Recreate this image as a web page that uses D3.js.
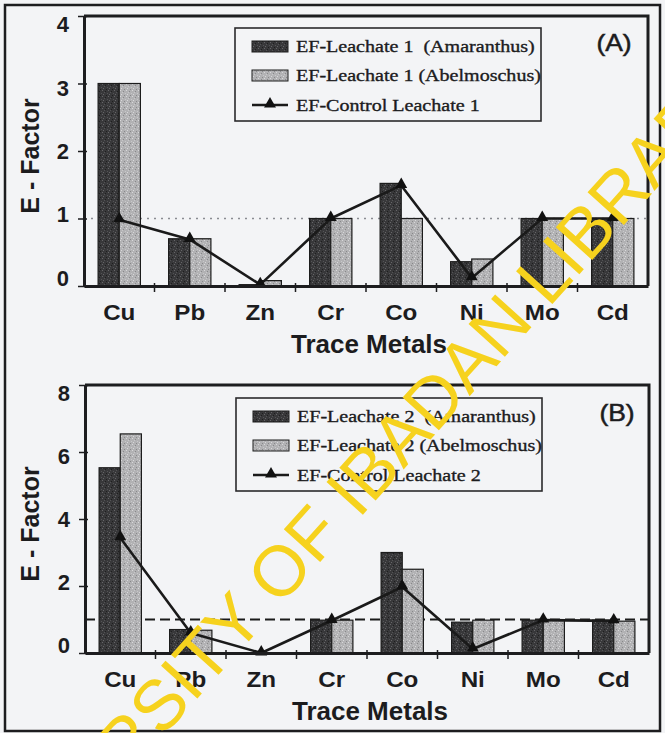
<!DOCTYPE html>
<html>
<head>
<meta charset="utf-8">
<script src="https://cdn.jsdelivr.net/npm/d3@7"></script>
<style>
  body { margin: 0; background: #f3f4f6; }
  svg { display: block; }
  text { white-space: pre; }
</style>
</head>
<body>
<svg id="fig" width="665" height="733"></svg>
<script>
// ---- data ----
const metals = ["Cu", "Pb", "Zn", "Cr", "Co", "Ni", "Mo", "Cd"];

// Leachate 1 enrichment factors
const amaranthus1  = [3.00, 0.70, 0.02, 1.00, 1.52, 0.36, 1.00, 1.00];
const abelmoschus1 = [3.00, 0.70, 0.08, 1.00, 1.00, 0.40, 1.00, 1.00];
const control1     = [0.98, 0.69, 0.02, 1.00, 1.49, 0.12, 1.00, 1.00];
const legend1 = ["EF-Leachate 1  (Amaranthus)", "EF-Leachate 1 (Abelmoschus)", "EF-Control Leachate 1"];
const yTicks1 = [0, 1, 2, 3, 4];

// Leachate 2 enrichment factors
const amaranthus2  = [5.53, 0.70, 0.00, 0.98, 3.00, 0.92, 0.98, 0.98];
const abelmoschus2 = [6.54, 0.68, 0.00, 0.98, 2.50, 0.98, 0.98, 0.95];
const control2     = [3.44, 0.60, 0.00, 0.97, 1.97, 0.12, 0.98, 0.96];
const legend2 = ["EF-Leachate 2  (Amaranthus)", "EF-Leachate 2 (Abelmoschus)", "EF-Control Leachate 2"];
const yTicks2 = [0, 2, 4, 6, 8];

const panelTags = ["(A)", "(B)"];
const threshold = 1;
const xTitle = "Trace Metals";
const yTitle = "E - Factor";
const watermark = "UNIVERSITY OF IBADAN LIBRARY";

// ---- drawing ----
const svg = d3.select("#fig");
const defs = svg.append("defs");
const SANS = "'Liberation Sans', Arial, sans-serif";
const SERIF = "'Liberation Serif', 'Times New Roman', serif";

// speckled fills for the bars (printed halftone look)
function texture(id, base, specks) {
  const p = defs.append("pattern").attr("id", id)
    .attr("patternUnits", "userSpaceOnUse").attr("width", 6).attr("height", 6);
  p.append("rect").attr("width", 6).attr("height", 6).attr("fill", base);
  const spots = [[0, 0], [3, 1], [5, 3], [1, 4], [4, 5], [2, 2]];
  spots.forEach(([a, b], i) => p.append("rect")
    .attr("x", a).attr("y", b).attr("width", 1).attr("height", 1)
    .attr("fill", specks[i % specks.length]));
}
texture("darkFill", "#38383a", ["#666668", "#1e1e1e", "#545456"]);
texture("lightFill", "#b2b2b4", ["#d8d8da", "#88888a", "#c8c8ca"]);

svg.append("rect").attr("width", 665).attr("height", 733).attr("fill", "#f3f4f6");

const panels = [
  { tag: panelTags[0], amar: amaranthus1, abel: abelmoschus1, ctrl: control1, legend: legend1,
    yTicks: yTicks1, left: 84, right: 648, top: 16, bottom: 286,
    legendBox: { x: 235, y: 28, w: 306, h: 93 }, tagPos: [614, 51], refStyle: "dotted" },
  { tag: panelTags[1], amar: amaranthus2, abel: abelmoschus2, ctrl: control2, legend: legend2,
    yTicks: yTicks2, left: 85, right: 649, top: 385, bottom: 653,
    legendBox: { x: 236, y: 398, w: 306, h: 93 }, tagPos: [617, 421], refStyle: "dashed" }
];

const tri = d3.symbol().type(d3.symbolTriangle).size(62);

panels.forEach(p => {
  const g = svg.append("g");
  const x = d3.scaleBand().domain(metals).range([p.left, p.right])
    .paddingInner(0.4).paddingOuter(0.2);
  const sub = d3.scaleBand().domain(["amar", "abel"]).range([0, x.bandwidth()]);
  const y = d3.scaleLinear().domain([0, d3.max(p.yTicks)]).range([p.bottom, p.top]);

  // E-factor = 1 reference line
  const ref = g.append("line")
    .attr("x1", p.left).attr("x2", p.right)
    .attr("y1", y(threshold)).attr("y2", y(threshold));
  if (p.refStyle === "dotted") {
    ref.attr("stroke", "#8a8c92").attr("stroke-width", 1.6).attr("stroke-dasharray", "2,5");
  } else {
    ref.attr("stroke", "#1a1a1a").attr("stroke-width", 2).attr("stroke-dasharray", "10,5");
  }

  // bars
  const series = [
    { key: "amar", values: p.amar, fill: "url(#darkFill)" },
    { key: "abel", values: p.abel, fill: "url(#lightFill)" }
  ];
  series.forEach(s => {
    g.append("g").selectAll("rect")
      .data(metals.map((m, i) => ({ m, v: s.values[i] })).filter(d => d.v > 0))
      .join("rect")
      .attr("x", d => x(d.m) + sub(s.key))
      .attr("width", sub.bandwidth())
      .attr("y", d => y(d.v))
      .attr("height", d => y(0) - y(d.v))
      .attr("fill", s.fill)
      .attr("stroke", "#1c1c1c").attr("stroke-width", 1.2);
  });

  // control line with triangle markers
  const ctrlPts = metals.map((m, i) => [x(m) + x.bandwidth() / 2, y(p.ctrl[i])]);
  g.append("path").attr("d", d3.line()(ctrlPts))
    .attr("fill", "none").attr("stroke", "#1a1a1a").attr("stroke-width", 2.6)
    .attr("stroke-linejoin", "round");
  g.append("g").selectAll("path").data(ctrlPts).join("path")
    .attr("d", tri).attr("transform", d => `translate(${d[0]},${d[1] - 1})`)
    .attr("fill", "#111");

  // frame (top and right edges)
  g.append("path")
    .attr("d", `M${p.left},${p.top}H${p.right}V${p.bottom}`)
    .attr("fill", "none").attr("stroke", "#1d1d1f").attr("stroke-width", 3);

  // y axis
  const mid = (p.top + p.bottom) / 2;
  const yAxis = g.append("g").attr("transform", `translate(${p.left},0)`)
    .call(d3.axisLeft(y).tickValues(p.yTicks).tickFormat(d3.format("d"))
      .tickSizeInner(6).tickSizeOuter(0).tickPadding(9));
  yAxis.select(".domain").attr("stroke", "#1d1d1f").attr("stroke-width", 3);
  yAxis.selectAll(".tick line").attr("x1", 3).attr("stroke", "#1d1d1f").attr("stroke-width", 1.5);
  yAxis.selectAll(".tick text")
    .attr("font-family", SANS).attr("font-weight", "bold").attr("font-size", 22)
    .attr("fill", "#1c1c1e")
    .attr("dy", d => (0.34 * 22 + (mid - y(d)) * 0.06).toFixed(1) + "px");

  // x axis: labels centred in bands, ticks on band boundaries
  const xAxis = g.append("g").attr("transform", `translate(0,${p.bottom})`)
    .call(d3.axisBottom(x).tickSize(0).tickPadding(18));
  xAxis.select(".domain").attr("stroke", "#1d1d1f").attr("stroke-width", 3);
  xAxis.selectAll(".tick text")
    .attr("font-family", SANS).attr("font-weight", "bold").attr("font-size", 22)
    .attr("fill", "#1c1c1e").attr("transform", "scale(1.1,1)");
  const bounds = metals.slice(1).map(m => x(m) - x.step() * x.paddingInner() / 2);
  xAxis.append("g").selectAll("line").data(bounds).join("line")
    .attr("x1", d => d).attr("x2", d => d).attr("y1", -3).attr("y2", 6)
    .attr("stroke", "#1d1d1f").attr("stroke-width", 1.5);

  // axis titles
  g.append("text").text(xTitle)
    .attr("x", (p.left + p.right) / 2 + 3).attr("y", p.bottom + 67)
    .attr("text-anchor", "middle")
    .attr("font-family", SANS).attr("font-weight", "bold").attr("font-size", 26)
    .attr("fill", "#1c1c1e");
  g.append("text").text(yTitle)
    .attr("transform", `translate(39,${mid + 5}) rotate(-90)`)
    .attr("text-anchor", "middle")
    .attr("font-family", SANS).attr("font-weight", "bold").attr("font-size", 25)
    .attr("fill", "#1c1c1e");

  // panel tag
  g.append("text").text(p.tag)
    .attr("transform", `translate(${p.tagPos[0]},${p.tagPos[1]}) scale(1.15,1)`)
    .attr("text-anchor", "middle")
    .attr("font-family", SANS).attr("font-size", 23)
    .attr("fill", "#1c1c1e").attr("stroke", "#1c1c1e").attr("stroke-width", 0.5);

  // legend
  const lb = p.legendBox;
  const lg = g.append("g");
  lg.append("rect").attr("x", lb.x).attr("y", lb.y).attr("width", lb.w).attr("height", lb.h)
    .attr("fill", "#f3f4f6").attr("stroke", "#2a2a2c").attr("stroke-width", 1.6);
  const rows = [18, 47, 77];
  const swX = lb.x + 17, swW = 36;
  lg.append("rect").attr("x", swX).attr("y", lb.y + rows[0] - 5).attr("width", swW).attr("height", 11)
    .attr("fill", "url(#darkFill)").attr("stroke", "#1c1c1c").attr("stroke-width", 1);
  lg.append("rect").attr("x", swX).attr("y", lb.y + rows[1] - 5).attr("width", swW).attr("height", 11)
    .attr("fill", "url(#lightFill)").attr("stroke", "#1c1c1c").attr("stroke-width", 1);
  lg.append("line").attr("x1", swX).attr("x2", swX + swW)
    .attr("y1", lb.y + rows[2]).attr("y2", lb.y + rows[2])
    .attr("stroke", "#1a1a1a").attr("stroke-width", 2.4);
  lg.append("path").attr("d", tri)
    .attr("transform", `translate(${swX + swW / 2},${lb.y + rows[2] - 1})`).attr("fill", "#111");
  p.legend.forEach((t, i) => {
    lg.append("text").text(t)
      .attr("transform", `translate(${lb.x + 61},${lb.y + rows[i] + 6}) scale(1.18,1)`)
      .attr("font-family", SERIF).attr("font-size", 17)
      .attr("fill", "#1c1c1e").attr("stroke", "#1c1c1e").attr("stroke-width", 0.35);
  });
});

// outer border of the figure
svg.append("rect").attr("x", 5).attr("y", 5).attr("width", 655).attr("height", 726)
  .attr("fill", "none").attr("stroke", "#1d1d1f").attr("stroke-width", 2.5);

// library watermark across the figure
svg.append("text").text(watermark)
  .attr("transform", "translate(348,494) rotate(-48)")
  .attr("text-anchor", "middle").attr("dy", "0.35em")
  .attr("font-family", SANS).attr("font-size", 71)
  .attr("fill", "#f6d21e");
</script>
</body>
</html>
